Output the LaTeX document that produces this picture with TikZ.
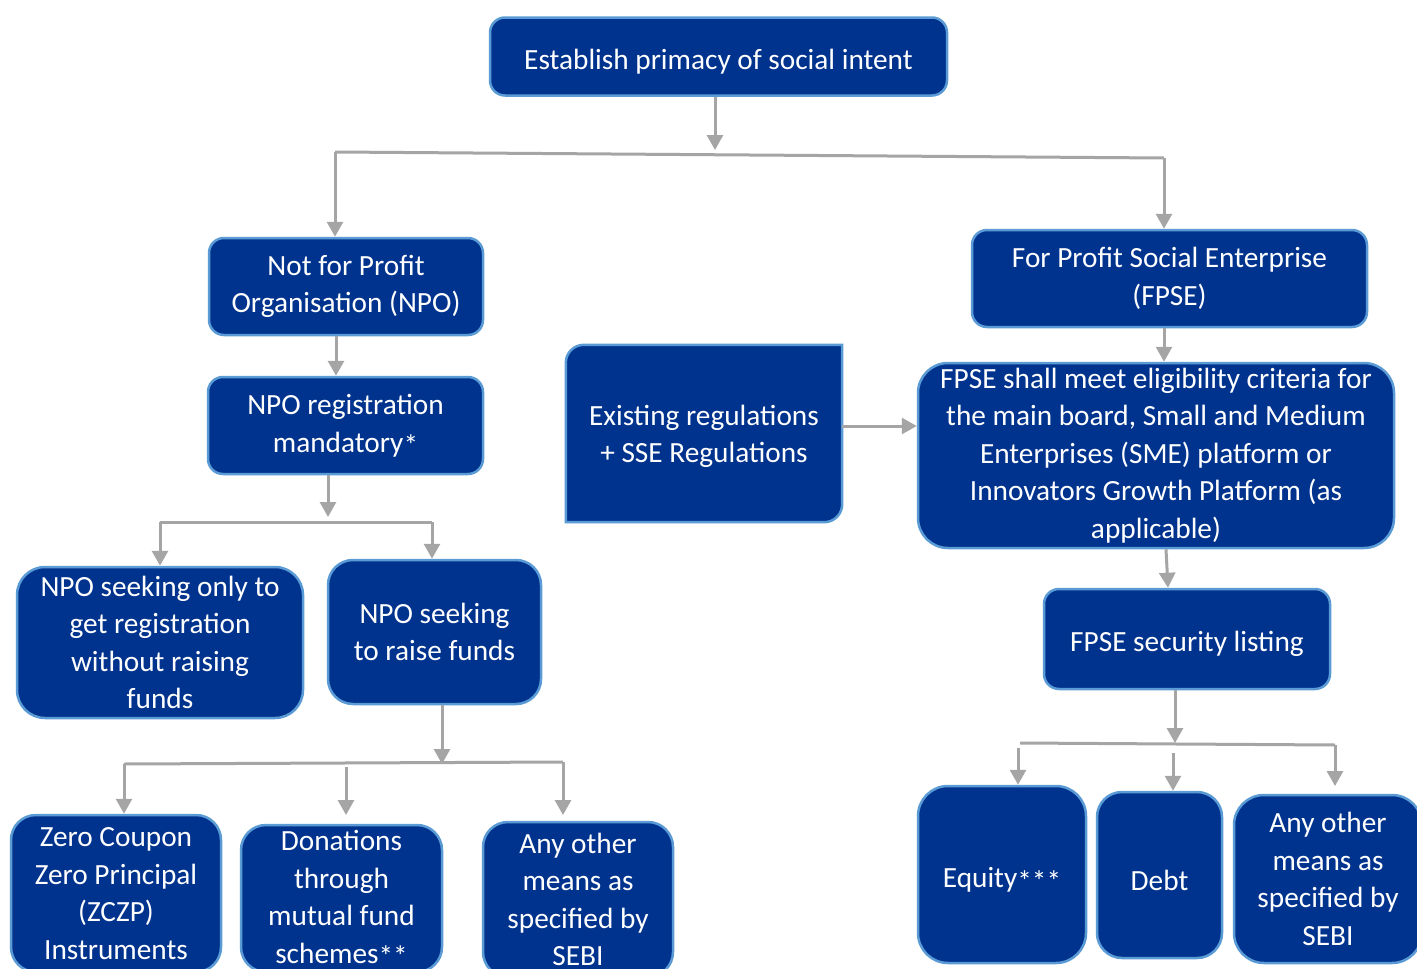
\documentclass[tikz,border=0pt]{standalone}
\usepackage{fontspec}
\setmainfont{Carlito}
\usetikzlibrary{arrows.meta}
\definecolor{boxfill}{RGB}{0,51,141}
\definecolor{boxedge}{RGB}{91,155,213}
\definecolor{arrgray}{RGB}{165,165,165}
\newcommand{\lowstar}{\raisebox{-0.12em}{*}}
\begin{document}
\begin{tikzpicture}[x=1pt,y=-1pt,
  box/.style={draw=boxedge, line width=2.5pt, fill=boxfill, text=white, align=center,
    inner sep=0pt, font=\fontsize{29.3}{37.5}\selectfont,
    execute at begin node={\rule{0pt}{31pt}}},
  plain/.style={text=white, align=center, inner sep=0pt, font=\fontsize{29.3}{37.5}\selectfont},
  arr/.style={draw=arrgray, line width=3pt, -{Triangle[length=15pt,width=16pt]}},
  ln/.style={draw=arrgray, line width=3pt}]
\useasboundingbox (0,0) rectangle (1417,969);
\fill[white] (0,0) rectangle (1417,969);
\clip (0,0) rectangle (1417,969);

\node[box, rounded corners=15pt, minimum width=457pt, minimum height=78pt] (top) at (718.5,56.5) {Establish primacy of social intent};
\node[box, rounded corners=15pt, minimum width=274pt, minimum height=97pt] (npo) at (346,286.5) {Not for Profit\\Organisation (NPO)};
\node[box, rounded corners=15pt, minimum width=395pt, minimum height=97pt] (fpse) at (1169.5,278.5) {For Profit Social Enterprise\\(FPSE)};
\node[box, rounded corners=15pt, minimum width=275pt, minimum height=97pt] (reg) at (345.5,425.5) {NPO registration\\mandatory\lowstar};

% Existing regulations box: rounded top-left and bottom-right corners only
\node[plain, minimum width=276pt, minimum height=177pt] (ex) at (704,433.5) {};
\path[draw=boxedge, line width=2.5pt, fill=boxfill]
  [rounded corners=18pt] (ex.north) -- (ex.north west) [sharp corners] -- (ex.south west)
  [rounded corners=18pt] -- (ex.south east) [sharp corners] -- (ex.north east) -- cycle;
\node[plain] at ([yshift=1pt]ex.center) {\rule{0pt}{28pt}Existing regulations\\+ SSE Regulations};

\node[box, rounded corners=30pt, minimum width=476pt, minimum height=185pt] (shall) at (1156,455.5) {FPSE shall meet eligibility criteria for\\the main board, Small and Medium\\Enterprises (SME) platform or\\Innovators Growth Platform (as\\applicable)};
\node[box, rounded corners=28pt, minimum width=286pt, minimum height=151pt] (only) at (160,642.5) {NPO seeking only to\\get registration\\without raising\\funds};
\node[box, rounded corners=25pt, minimum width=213pt, minimum height=144pt] (raise) at (434.5,632) {NPO seeking\\to raise funds};
\node[box, rounded corners=15pt, minimum width=286pt, minimum height=100pt] (listing) at (1187,639) {FPSE security listing};
\node[box, rounded corners=25pt, minimum width=210pt, minimum height=157pt] (zc) at (116,893.5) {Zero Coupon\\Zero Principal\\(ZCZP)\\Instruments};
\node[box, rounded corners=25pt, minimum width=201pt, minimum height=147pt] (don) at (341.5,898.5) {Donations\\through\\mutual fund\\schemes\lowstar\lowstar};
\node[box, rounded corners=25pt, minimum width=190pt, minimum height=155pt] (anyl) at (578,899.5) {Any other\\means as\\specified by\\SEBI};
\node[box, rounded corners=30pt, minimum width=168pt, minimum height=177pt] (eq) at (1002,874.5) {Equity\lowstar\lowstar\lowstar};
\node[box, rounded corners=25pt, minimum width=125pt, minimum height=166pt] (debt) at (1159.5,875) {Debt};
\node[box, rounded corners=30pt, minimum width=188pt, minimum height=168pt] (anyr) at (1328,879) {Any other\\means as\\specified by\\SEBI};

% connectors
\coordinate (j0) at (715,150);
\coordinate (jL) at (335,152);
\coordinate (jR) at (1164,158);
\draw[arr] ([xshift=-3.5pt]top.south) -- (j0);
\draw[ln] (jL) -- (jR);
\draw[arr] (jL) -- (npo.north -| jL);
\draw[arr] (jR) -- (fpse.north -| jR);
\draw[arr] ([xshift=-10pt]npo.south) -- ([xshift=-9.5pt]reg.north);
\draw[arr] ([xshift=-5.5pt]fpse.south) -- ([xshift=8pt]shall.north);
\draw[arr] ([yshift=7.5pt]ex.east) -- ([yshift=29.5pt]shall.west);

\coordinate (k0) at (328,517);
\coordinate (kL) at (160,522);
\coordinate (kR) at (432,522);
\draw[arr] ([xshift=-17.5pt]reg.south) -- (k0);
\draw[ln] (kL) -- (kR);
\draw[arr] (kL) -- (only.north -| kL);
\draw[arr] (kR) -- (raise.north -| kR);

\draw[arr] ([xshift=10pt]shall.south) -- ([xshift=-19pt]listing.north);

\coordinate (m0) at (442,764);
\coordinate (mL) at (124,764);
\coordinate (mR) at (563,762);
\coordinate (mM) at (346,767);
\coordinate (mMe) at (346,815);
\coordinate (mRe) at (563,815);
\draw[arr] ([xshift=7.5pt]raise.south) -- (m0);
\draw[ln] (mL) -- (mR);
\draw[arr] (mL) -- ([xshift=8pt]zc.north);
\draw[arr] (mM) -- (mMe);
\draw[arr] (mR) -- (mRe);

\coordinate (n0) at (1175,743);
\coordinate (nL) at (1020,743);
\coordinate (nR) at (1335,745);
\coordinate (nE) at (1018,748);
\coordinate (nD) at (1173,753);
\coordinate (nRe) at (1335,786);
\draw[arr] ([xshift=-12pt]listing.south) -- (n0);
\draw[ln] (nL) -- (nR);
\draw[arr] (nE) -- ([xshift=16pt]eq.north);
\draw[arr] (nD) -- ([xshift=13.5pt]debt.north);
\draw[arr] (nR) -- (nRe);
\end{tikzpicture}
\end{document}
